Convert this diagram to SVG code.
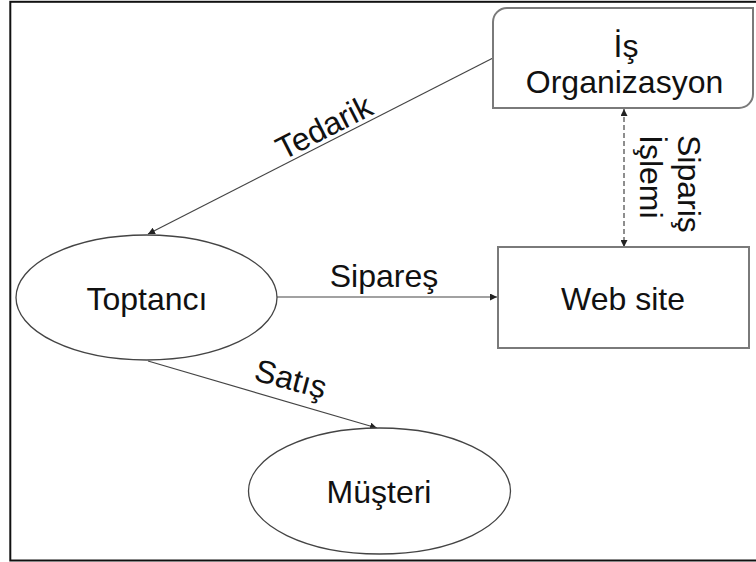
<svg xmlns="http://www.w3.org/2000/svg" width="756" height="562" viewBox="0 0 756 562">
  <style>
    .lbl { font-family: "Liberation Sans", Arial, sans-serif; font-size: 32px; fill: #111; }
    .mid { text-anchor: middle; }
    .box { fill: #fff; stroke: #7a7a7a; stroke-width: 2; }
    .ell { fill: #fff; stroke: #444; stroke-width: 1.3; }
    .edge { fill: none; stroke: #444; stroke-width: 1.2; }
    .dash { stroke-dasharray: 5 3; }
  </style>
  <defs>
    <marker id="arrow" viewBox="0 0 10 10" refX="10" refY="5" markerWidth="7" markerHeight="7" markerUnits="userSpaceOnUse" orient="auto-start-reverse">
      <path d="M0,0 L10,5 L0,10 Z" fill="#222"/>
    </marker>
  </defs>

  <rect width="756" height="562" fill="#fff"/>
  <!-- outer frame -->
  <rect x="10.3" y="1.8" width="780" height="558.7" fill="none" stroke="#111" stroke-width="2"/>

  <!-- connectors -->
  <g id="connectors">
    <line class="edge" x1="493" y1="58" x2="148" y2="234" marker-end="url(#arrow)"/>
    <line class="edge" x1="277" y1="297" x2="497" y2="297" marker-end="url(#arrow)"/>
    <line class="edge" x1="148" y1="361" x2="377" y2="428" marker-end="url(#arrow)"/>
    <line class="edge dash" x1="624" y1="109" x2="624" y2="247" marker-start="url(#arrow)" marker-end="url(#arrow)"/>

    <text class="lbl mid" transform="translate(329,137) rotate(-27)">Tedarik</text>
    <text class="lbl mid" x="384" y="287">Sipareş</text>
    <text class="lbl mid" transform="translate(288,389.5) rotate(15)">Satış</text>
    <text class="lbl" transform="translate(678,135) rotate(90)">
      <tspan x="0" y="0">Sipariş</tspan>
      <tspan x="0" y="38.5">İşlemi</tspan>
    </text>
  </g>

  <!-- nodes -->
  <g id="is-organizasyon">
    <path class="box" d="M507,8 H753 V94 A14,14 0 0 1 739,108 H493 V22 A14,14 0 0 1 507,8 Z"/>
    <text class="lbl mid" x="626" y="57">İş</text>
    <text class="lbl mid" x="624.5" y="93">Organizasyon</text>
  </g>

  <g id="web-site">
    <rect class="box" x="498" y="247" width="251" height="101"/>
    <text class="lbl mid" x="623" y="309.5">Web site</text>
  </g>

  <g id="toptanci">
    <ellipse class="ell" cx="146.5" cy="297.5" rx="130.5" ry="62.5"/>
    <text class="lbl mid" x="147" y="309.5">Toptancı</text>
  </g>

  <g id="musteri">
    <ellipse class="ell" cx="379.5" cy="491" rx="131" ry="63"/>
    <text class="lbl mid" x="379" y="502.5">Müşteri</text>
  </g>
</svg>
